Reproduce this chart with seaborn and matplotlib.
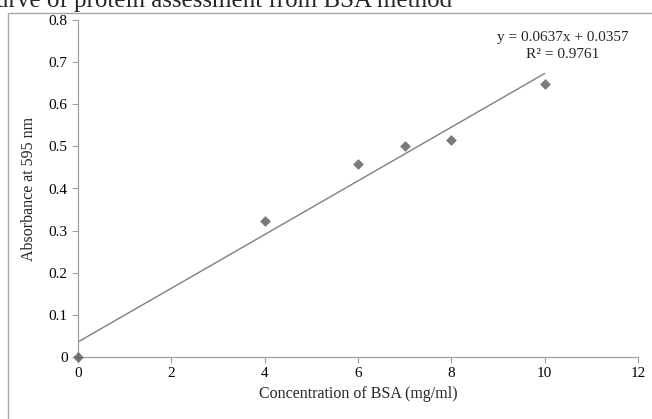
import numpy as np
import pandas as pd
import matplotlib
matplotlib.use("Agg")
import matplotlib.pyplot as plt
import seaborn as sns
from matplotlib.patches import Rectangle

# Data
concentration = [0, 4, 6, 7, 8, 10]
absorbance = [0.0, 0.324, 0.458, 0.502, 0.514, 0.647]
x_ticks = [0, 2, 4, 6, 8, 10, 12]
y_ticks = [0, 0.1, 0.2, 0.3, 0.4, 0.5, 0.6, 0.7, 0.8]
y_tick_labels = ["0", "0.1", "0.2", "0.3", "0.4", "0.5", "0.6", "0.7", "0.8"]
equation_text = "y = 0.0637x + 0.0357"
r2_text = "R\u00b2 = 0.9761"
title_text = "Standard curve of protein assessment from BSA method"
x_label = "Concentration of BSA (mg/ml)"
y_label = "Absorbance at 595 nm"

df = pd.DataFrame({"conc": concentration, "abs": absorbance})

sns.set_theme(style="white")
plt.rcParams["font.family"] = ["Liberation Serif", "DejaVu Serif"]

W, H = 652, 419
fig = plt.figure(figsize=(W / 100, H / 100), dpi=100)
ax = fig.add_axes([78 / W, 1 - 357 / H, (638 - 78) / W, (357 - 20) / H])

sns.regplot(data=df, x="conc", y="abs", ax=ax, ci=None, truncate=True,
            marker="D",
            scatter_kws={"s": 30, "color": "#595959", "linewidths": 0,
                         "zorder": 3, "clip_on": False},
            line_kws={"color": "#7f7f7f", "linewidth": 1.0, "zorder": 2})

ax.set_xlim(0, 12)
ax.set_ylim(0, 0.8)
ax.set_xticks(x_ticks)
ax.set_xticklabels([str(t) for t in x_ticks])
ax.set_yticks(y_ticks)
ax.set_yticklabels(y_tick_labels)
ax.set_xlabel(x_label, fontsize=11.5, labelpad=4)
ax.set_ylabel(y_label, fontsize=11.5, labelpad=8)
ax.tick_params(axis="both", labelsize=11, colors="black", length=4, width=0.8,
               direction="out", bottom=True, left=True)
ax.tick_params(axis="both", color="#a0a0a0")
for side in ["top", "right"]:
    ax.spines[side].set_visible(False)
for side in ["left", "bottom"]:
    ax.spines[side].set_color("#a0a0a0")
    ax.spines[side].set_linewidth(0.9)
ax.grid(False)
ax.set_facecolor("none")

# equation text
fig.text(563 / W, 1 - 37 / H, equation_text, ha="center", va="center", fontsize=11)
fig.text(563 / W, 1 - 54 / H, r2_text, ha="center", va="center", fontsize=11)

# outer border of the chart area
fig.patches.append(Rectangle((8 / W, -0.1), 1.2, 1 - 13 / H + 0.1,
                             transform=fig.transFigure, fill=False,
                             edgecolor="#a6a6a6", linewidth=1.0, zorder=0))

# partially clipped title at the top (as in the reference crop)
fig.text(452 / W, 1 - 7 / H, title_text, ha="right", va="baseline",
         fontsize=18)

fig.savefig("out.png", dpi=100)
